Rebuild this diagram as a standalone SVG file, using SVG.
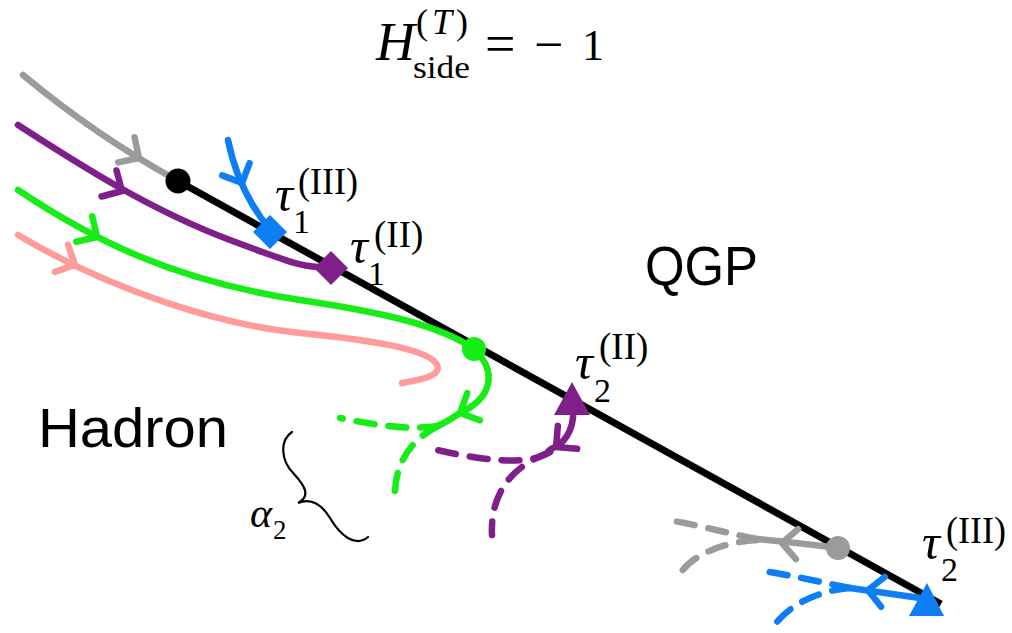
<svg xmlns="http://www.w3.org/2000/svg" xmlns:xlink="http://www.w3.org/1999/xlink" width="1012" height="633" viewBox="0 0 1012 633">
<style>
.c{fill:none;stroke-width:6.5;stroke-linecap:round;stroke-linejoin:round}
.d{stroke-dasharray:18 14}
.gray{stroke:#9b9b9b}
.pur{stroke:#7f1f89}
.grn{stroke:#16ec16}
.pink{stroke:#ff9b9b}
.blue{stroke:#0d7ef3}
.serif{font-family:"Liberation Serif","Times New Roman",serif;fill:#000}
.sans{font-family:"Liberation Sans",Arial,sans-serif;fill:#000}
.it{font-style:italic}
</style>
<defs>
<path id="chev" d="M-15,-15 L0,0 L-15,15" fill="none"/>
</defs>
<rect width="1012" height="633" fill="#fff"/>

<g id="title">
<text class="serif it" x="376" y="60" font-size="54">H</text>
<text class="serif" x="416" y="34" font-size="36" textLength="52" lengthAdjust="spacing">(<tspan font-style="italic">T</tspan>)</text>
<text class="serif" x="413" y="78" font-size="31" textLength="57" lengthAdjust="spacingAndGlyphs">side</text>
<text class="serif" x="485" y="62" font-size="54">=</text>
<text class="serif" x="534" y="62" font-size="52">−</text>
<text class="serif" x="582" y="60" font-size="44">1</text>
</g>

<g id="connectors">
<line x1="178" y1="181" x2="941" y2="604" stroke="#000" stroke-width="7"/>
<!-- gray upper -->
<path class="c gray" d="M23,75 Q95,135 178,181"/>
<use xlink:href="#chev" class="c gray" transform="translate(139,158) rotate(33)"/>
<!-- purple upper -->
<path class="c pur" d="M18,125 C80,165 150,210 230,240 S300,265 331,268"/>
<use xlink:href="#chev" class="c pur" transform="translate(122,191) rotate(30)"/>
<!-- green upper -->
<path class="c grn" d="M18,190 C90,238 170,280 300,300 C380,312 440,325 474,349"/>
<use xlink:href="#chev" class="c grn" transform="translate(97,237) rotate(32)"/>
<!-- pink -->
<path class="c pink" d="M18,235 C110,290 220,325 300,333 C380,341 430,350 437,365 C442,376 420,380 402,383"/>
<use xlink:href="#chev" class="c pink" transform="translate(75,265) rotate(26)"/>
<!-- blue upper -->
<path class="c blue" d="M228,140 C233,165 245,200 272,232"/>
<use xlink:href="#chev" class="c blue" transform="translate(242,183) rotate(66)"/>
<!-- green lower -->
<path class="c grn" d="M474,349 C498,372 492,398 460,413 Q450,420 438,426"/>
<use xlink:href="#chev" class="c grn" transform="translate(460,413) rotate(155)"/>
<path class="c d grn" d="M438,426 C410,430 380,426 340,418"/>
<path class="c d grn" d="M438,426 C410,440 393,465 395,502"/>
<!-- purple lower -->
<path class="c pur" d="M573,405 C575,425 568,440 555,447 Q548,450 548,452"/>
<use xlink:href="#chev" class="c pur" transform="translate(556,447) rotate(140)"/>
<path class="c d pur" d="M550,452 C530,465 490,462 437,450"/>
<path class="c d pur" d="M550,452 C515,465 490,490 492,535"/>
<!-- gray lower -->
<path class="c gray" d="M838,548 Q800,543 757,539"/>
<use xlink:href="#chev" class="c gray" transform="translate(782,543) rotate(184)"/>
<path class="c d gray" d="M757,539 C730,534 700,525 667,520"/>
<path class="c d gray" d="M757,540 C720,542 685,558 677,580"/>
<!-- blue lower -->
<path class="c blue" d="M920,598 L850,588"/>
<use xlink:href="#chev" class="c blue" transform="translate(868,590) rotate(187)"/>
<path class="c d blue" d="M850,588 C820,582 790,575 758,570"/>
<path class="c d blue" d="M850,588 C820,590 785,605 770,632"/>
<!-- alpha2 brace -->
<path d="M292,432 C280,440 280,460 294,474 C305,486 311,496 298,503 C312,497 322,505 330,518 C340,535 355,548 368,537" fill="none" stroke="#000" stroke-width="2.2" stroke-linecap="round"/>
</g>

<g id="start-point"><circle cx="178" cy="181" r="12.5" fill="#000"/></g>
<g id="green-point"><circle cx="474" cy="349" r="12" fill="#16ec16"/></g>
<g id="gray-point"><circle cx="838" cy="548" r="12" fill="#9b9b9b"/></g>

<g id="tau1-III">
<rect x="258" y="220" width="24" height="24" fill="#0d7ef3" transform="rotate(45 270 232)"/>
<text class="serif it" x="275" y="211" font-size="50">τ</text>
<text class="serif" x="293" y="233" font-size="34">1</text>
<text class="serif" x="298" y="194" font-size="37" textLength="60" lengthAdjust="spacingAndGlyphs">(III)</text>
</g>

<g id="tau1-II">
<rect x="319" y="256" width="24" height="24" fill="#7f1f89" transform="rotate(45 331 268)"/>
<text class="serif it" x="350" y="263" font-size="50">τ</text>
<text class="serif" x="368" y="285" font-size="34">1</text>
<text class="serif" x="374" y="247" font-size="37">(II)</text>
</g>

<g id="tau2-II">
<polygon points="572,382 590,415 554,415" fill="#7f1f89"/>
<text class="serif it" x="575" y="379" font-size="50">τ</text>
<text class="serif" x="594" y="402" font-size="34">2</text>
<text class="serif" x="599" y="359" font-size="37">(II)</text>
</g>

<g id="tau2-III">
<polygon points="927,583 944,616 909,616" fill="#0d7ef3"/>
<text class="serif it" x="922" y="559" font-size="50">τ</text>
<text class="serif" x="941" y="581" font-size="34">2</text>
<text class="serif" x="946" y="543" font-size="37" textLength="60" lengthAdjust="spacingAndGlyphs">(III)</text>
</g>

<g id="alpha2">
<text class="serif it" x="250" y="527" font-size="42">α</text>
<text class="serif" x="273" y="539" font-size="27">2</text>
</g>

<g id="qgp"><text class="sans" x="645" y="285" font-size="55" textLength="113" lengthAdjust="spacingAndGlyphs">QGP</text></g>
<g id="hadron"><text class="sans" x="38" y="447" font-size="55" textLength="190" lengthAdjust="spacingAndGlyphs">Hadron</text></g>
</svg>
